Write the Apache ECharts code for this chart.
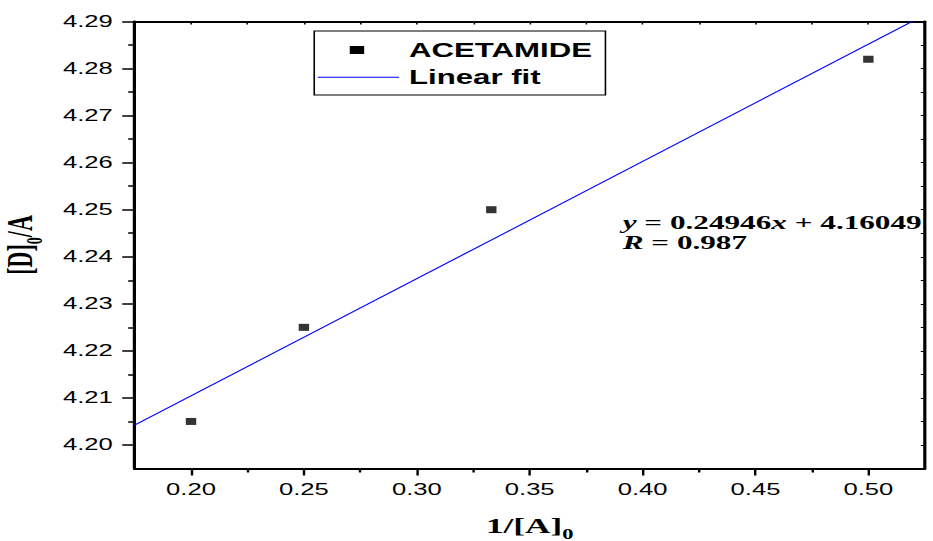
<!DOCTYPE html>
<html>
<head>
<meta charset="utf-8">
<script src="https://cdn.jsdelivr.net/npm/echarts@6/dist/echarts.min.js"></script>
<style>
  html, body { margin: 0; padding: 0; background: #fff; overflow: hidden; }
  /* the reference is stretched sideways, so draw narrow and widen */
  #chart { width: 583.125px; height: 541px; transform: scaleX(1.6); transform-origin: 0 0; }
</style>
</head>
<body>
<div id="chart"></div>
<script>
// ACETAMIDE points
const acetX = [0.2, 0.25, 0.333, 0.5]
const acetY = [4.205, 4.225, 4.250, 4.282]
// linear fit end points (y = 0.24946x + 4.16049)
const fitX = [0.175, 0.525]
const fitY = [4.2042, 4.2914]
// ticks
const xTicks = [0.20, 0.25, 0.30, 0.35, 0.40, 0.45, 0.50]
const xMinor = [0.225, 0.275, 0.325, 0.375, 0.425, 0.475]
const yTicks = [4.20, 4.21, 4.22, 4.23, 4.24, 4.25, 4.26, 4.27, 4.28, 4.29]
const yMinor = [4.205, 4.215, 4.225, 4.235, 4.245, 4.255, 4.265, 4.275, 4.285]

const sans = 'Liberation Sans'
const serif = 'Liberation Serif'
const black = '#000'

const chart = echarts.init(document.getElementById('chart'), null, { renderer: 'svg' })

const axisNameStyle = {
  fontFamily: serif,
  fontWeight: 'bold',
  fontSize: 22,
  color: black,
  rich: {
    b: { fontFamily: serif, fontWeight: 'bold', fontSize: 22, color: black },
    s: { fontFamily: serif, fontWeight: 'bold', fontSize: 14, color: black, padding: [18, 0, 0, 0] }
  }
}

function baseX (extra) {
  return Object.assign({
    type: 'value',
    min: 0.175,
    max: 0.525,
    splitLine: { show: false },
    axisLine: { show: true, onZero: false, lineStyle: { color: black, width: 2 } }
  }, extra)
}
function baseY (extra) {
  return Object.assign({
    type: 'value',
    min: 4.195,
    max: 4.29,
    splitLine: { show: false },
    axisLine: { show: true, onZero: false, lineStyle: { color: black, width: 2 } }
  }, extra)
}

const option = {
  animation: false,
  backgroundColor: '#fff',
  grid: { left: 84.1, right: 5, top: 21.5, bottom: 72.5, containLabel: false, outerBoundsMode: 'none' },
  xAxis: [
    baseX({
      position: 'bottom',
      name: '{b|1/[A]}{s|0}',
      nameLocation: 'middle',
      nameGap: 41,
      nameTextStyle: axisNameStyle,
      axisTick: { show: true, customValues: xTicks, length: 7, lineStyle: { color: black, width: 1.5 } },
      axisLabel: {
        customValues: xTicks,
        margin: 13,
        fontFamily: sans,
        fontSize: 16,
        color: black,
        formatter: (v) => v.toFixed(2)
      }
    }),
    baseX({
      position: 'bottom',
      axisLine: { show: false },
      axisTick: { show: true, customValues: xMinor, length: 4, lineStyle: { color: black, width: 1.5 } },
      axisLabel: { show: false }
    }),
    baseX({
      position: 'top',
      axisTick: { show: true, inside: true, customValues: xTicks.concat(xMinor), length: 3, lineStyle: { color: black, width: 1 } },
      axisLabel: { show: false }
    })
  ],
  yAxis: [
    baseY({
      position: 'left',
      name: '{b|[D]}{s|0}{b|/A}',
      nameLocation: 'middle',
      nameRotate: 90,
      nameGap: 51,
      nameTextStyle: axisNameStyle,
      axisTick: { show: true, customValues: yTicks, length: 7.7, lineStyle: { color: black, width: 1.5 } },
      axisLabel: {
        customValues: yTicks,
        margin: 13.6,
        fontFamily: sans,
        fontSize: 16,
        color: black,
        formatter: (v) => v.toFixed(2)
      }
    }),
    baseY({
      position: 'left',
      axisLine: { show: false },
      axisTick: { show: true, customValues: yMinor, length: 4, lineStyle: { color: black, width: 1.5 } },
      axisLabel: { show: false }
    }),
    baseY({
      position: 'right',
      axisTick: { show: true, inside: true, customValues: yTicks.concat(yMinor), length: 2.5, lineStyle: { color: black, width: 1 } },
      axisLabel: { show: false }
    })
  ],
  series: [
    {
      name: 'Linear fit',
      type: 'line',
      xAxisIndex: 0,
      yAxisIndex: 0,
      data: fitX.map((x, i) => [x, fitY[i]]),
      showSymbol: false,
      clip: true,
      lineStyle: { color: '#0000ff', width: 1 }
    },
    {
      name: 'ACETAMIDE',
      type: 'scatter',
      xAxisIndex: 0,
      yAxisIndex: 0,
      data: acetX.map((x, i) => [x, acetY[i]]),
      symbol: 'rect',
      symbolSize: [6.5, 7],
      itemStyle: { color: black }
    }
  ],
  graphic: [
    // legend box
    { type: 'rect', shape: { x: 196.4, y: 31, width: 182, height: 64 }, style: { fill: 'none', stroke: black, lineWidth: 1 } },
    { type: 'rect', shape: { x: 218.6, y: 46, width: 9, height: 8 }, style: { fill: black } },
    { type: 'text', x: 255.6, y: 50, style: { text: 'ACETAMIDE', fontFamily: sans, fontWeight: 'bold', fontSize: 19.5, fill: black, verticalAlign: 'middle' } },
    { type: 'line', shape: { x1: 198.6, y1: 77.3, x2: 249.4, y2: 77.3 }, style: { stroke: '#0000ff', lineWidth: 1 } },
    { type: 'text', x: 255.6, y: 77, style: { text: 'Linear fit', fontFamily: sans, fontWeight: 'bold', fontSize: 19.5, fill: black, verticalAlign: 'middle' } },
    // fit equation
    {
      type: 'text', x: 389.2, y: 222.5,
      style: {
        text: '{i|y} = 0.24946{i|x} + 4.16049',
        fontFamily: serif, fontWeight: 'bold', fontSize: 19.5, fill: black, verticalAlign: 'middle',
        rich: { i: { fontFamily: serif, fontWeight: 'bold', fontStyle: 'italic', fontSize: 19.5, fill: black } }
      }
    },
    {
      type: 'text', x: 389.2, y: 242.5,
      style: {
        text: '{i|R} = 0.987',
        fontFamily: serif, fontWeight: 'bold', fontSize: 19.5, fill: black, verticalAlign: 'middle',
        rich: { i: { fontFamily: serif, fontWeight: 'bold', fontStyle: 'italic', fontSize: 19.5, fill: black } }
      }
    }
  ]
}

chart.setOption(option)
</script>
</body>
</html>
